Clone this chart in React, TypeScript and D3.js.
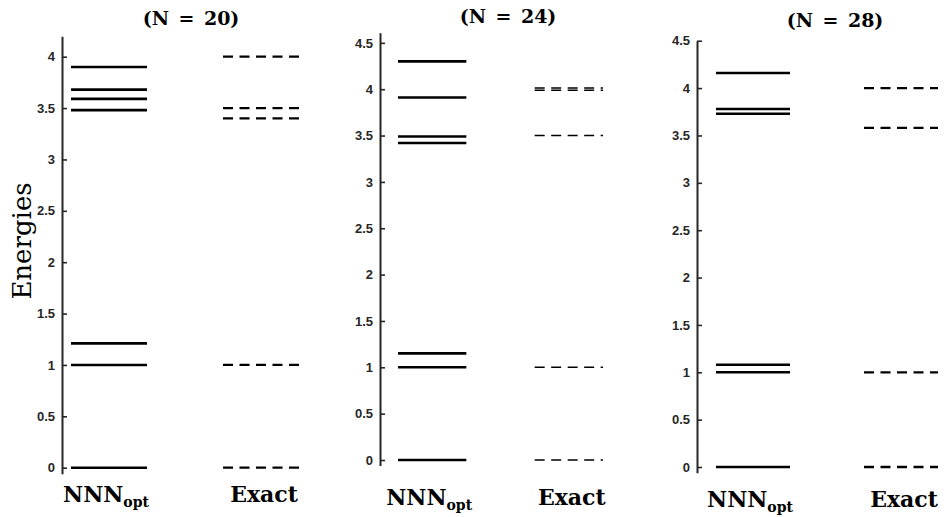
import React, { useEffect, useRef } from 'react'
import * as d3 from 'd3'

// system sizes, one panel each
const systemSizes = [20, 24, 28]
const methods = ['NNN', 'Exact']

// energy levels
const nnnLevels20 = [0, 1.0, 1.21, 3.48, 3.59, 3.68, 3.9]
const exactLevels20 = [0, 1.0, 3.4, 3.5, 4.0]
const nnnLevels24 = [0, 1.0, 1.15, 3.42, 3.49, 3.91, 4.3]
const exactLevels24 = [0, 1.0, 3.5, 3.988, 4.012]
const nnnLevels28 = [0, 1.0, 1.08, 3.73, 3.78, 4.16]
const exactLevels28 = [0, 1.0, 3.58, 4.0]

const ticks20 = [0, 0.5, 1, 1.5, 2, 2.5, 3, 3.5, 4]
const ticks24 = [0, 0.5, 1, 1.5, 2, 2.5, 3, 3.5, 4, 4.5]
const ticks28 = [0, 0.5, 1, 1.5, 2, 2.5, 3, 3.5, 4, 4.5]

const yLabel = 'Energies'

const WIDTH = 944
const HEIGHT = 517

const serif = 'DejaVu Serif, serif'
const sans = 'Liberation Sans, Arial, sans-serif'

const App: React.FC = () => {
    const ref = useRef<SVGSVGElement | null>(null)

    useEffect(() => {
        if (!ref.current) return
        const svg = d3.select(ref.current)
        svg.selectAll('*').remove()

        const panels = [
            {
                n: systemSizes[0], nnn: nnnLevels20, exact: exactLevels20, ticks: ticks20,
                domain: [-0.06, 4.2], zeroY: 467.7, fourY: 56.7,
                axisX: 62, xRange: [71, 299], titleX: 191, titleY: 25, labelY: 502, dashW: 2.3
            },
            {
                n: systemSizes[1], nnn: nnnLevels24, exact: exactLevels24, ticks: ticks24,
                domain: [-0.06, 4.61], zeroY: 460, fourY: 89.2,
                axisX: 380, xRange: [398, 603], titleX: 508, titleY: 23, labelY: 505, dashW: 1.5
            },
            {
                n: systemSizes[2], nnn: nnnLevels28, exact: exactLevels28, ticks: ticks28,
                domain: [-0.06, 4.5], zeroY: 467, fourY: 88.1,
                axisX: 697, xRange: [716, 938], titleX: 835, titleY: 27, labelY: 507, dashW: 2.3
            }
        ]

        panels.forEach(p => {
            // linear map fixed by the 0 and 4 ticks, then limited to the axis domain
            const base = d3.scaleLinear().domain([0, 4]).range([p.zeroY, p.fourY])
            const y = d3.scaleLinear()
                .domain(p.domain)
                .range([base(p.domain[0]), base(p.domain[1])])

            const x = d3.scaleBand<string>()
                .domain(methods)
                .range(p.xRange as [number, number])
                .paddingInner(0.5)
                .paddingOuter(0)

            const g = svg.append('g')

            // y axis: ticks point inward, labels outside
            const axis = d3.axisLeft(y)
                .tickValues(p.ticks)
                .tickSizeInner(-5)
                .tickSizeOuter(0)
                .tickPadding(7)
                .tickFormat(d => String(d))

            const ag = g.append('g')
                .attr('transform', `translate(${p.axisX},0)`)
                .call(axis)
                .attr('font-size', 13)
                .attr('font-family', sans)
                .attr('font-weight', 'bold')
            ag.select('.domain')
                .attr('stroke', '#262626')
                .attr('stroke-width', 2)
            ag.selectAll('.tick line')
                .attr('stroke', '#262626')
                .attr('stroke-width', 1.6)
            ag.selectAll('.tick text')
                .attr('fill', '#262626')

            // NNN levels (solid)
            g.append('g')
                .selectAll('line')
                .data(p.nnn)
                .enter()
                .append('line')
                .attr('x1', x('NNN')!)
                .attr('x2', x('NNN')! + x.bandwidth())
                .attr('y1', d => y(d))
                .attr('y2', d => y(d))
                .attr('stroke', '#000')
                .attr('stroke-width', 2.6)

            // exact levels (dashed)
            g.append('g')
                .selectAll('line')
                .data(p.exact)
                .enter()
                .append('line')
                .attr('x1', x('Exact')!)
                .attr('x2', x('Exact')! + x.bandwidth())
                .attr('y1', d => y(d))
                .attr('y2', d => y(d))
                .attr('stroke', '#000')
                .attr('stroke-width', p.dashW)
                .attr('stroke-dasharray', '10 6.5')

            // title
            g.append('text')
                .attr('x', p.titleX)
                .attr('y', p.titleY)
                .attr('text-anchor', 'middle')
                .style('font-family', serif)
                .style('font-weight', 'bold')
                .style('font-size', '19px')
                .text(`(N\u2002=\u2002${p.n})`)

            // category labels
            const nnnLabel = g.append('text')
                .attr('x', x('NNN')! + x.bandwidth() / 2 - 3)
                .attr('y', p.labelY)
                .attr('text-anchor', 'middle')
                .style('font-family', serif)
                .style('font-weight', 'bold')
                .style('font-size', '22px')
            nnnLabel.append('tspan').text('NNN')
            nnnLabel.append('tspan')
                .attr('dy', 5)
                .style('font-size', '14px')
                .text('opt')

            g.append('text')
                .attr('x', x('Exact')! + x.bandwidth() / 2 + 3)
                .attr('y', p.labelY)
                .attr('text-anchor', 'middle')
                .style('font-family', serif)
                .style('font-weight', 'bold')
                .style('font-size', '22px')
                .text('Exact')
        })

        // shared y label
        svg.append('text')
            .attr('transform', 'translate(31,241) rotate(-90)')
            .attr('text-anchor', 'middle')
            .style('font-family', serif)
            .style('font-size', '26px')
            .text(yLabel)
    }, [])

    return (
        <svg
            ref={ref}
            width={WIDTH}
            height={HEIGHT}
            style={{ position: 'absolute', left: 0, top: 0, background: '#fff' }}
        ></svg>
    )
}

export default App
